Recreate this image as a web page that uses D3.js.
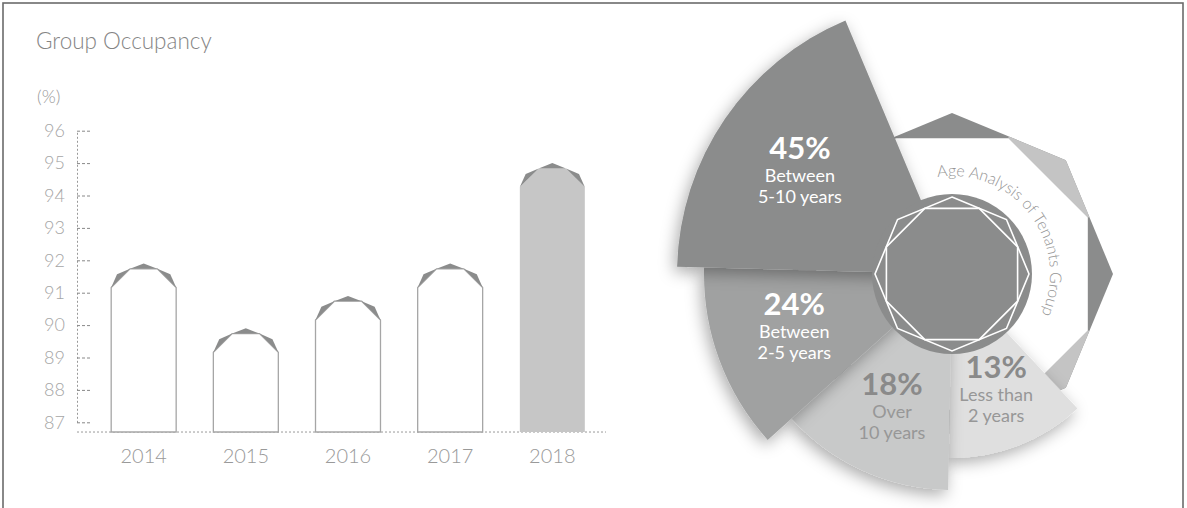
<!DOCTYPE html>
<html>
<head>
<meta charset="utf-8">
<script src="https://cdn.jsdelivr.net/npm/d3@7"></script>
<style>
  html, body { margin: 0; padding: 0; background: #fff; }
  svg { display: block; font-family: Lato, 'Open Sans', sans-serif; }
</style>
</head>
<body>
<svg id="chart" width="1187" height="508"></svg>
<script>
// ---- data ----
const years = ['2014', '2015', '2016', '2017', '2018'];
const occupancy = [91.9, 89.9, 90.9, 91.9, 95.0];
const yTicks = [87, 88, 89, 90, 91, 92, 93, 94, 95, 96];

const agePct = [13, 18, 24, 45];
const ageLine1 = ['Less than', 'Over', 'Between', 'Between'];
const ageLine2 = ['2 years', '10 years', '2-5 years', '5-10 years'];
const ageTitle = 'Age Analysis of Tenants Group';

const deg = Math.PI / 180;
const dark = '#8b8c8c';

const svg = d3.select('#chart');

// frame
svg.append('rect')
  .attr('x', 3).attr('y', 3)
  .attr('width', 1180).attr('height', 530)
  .attr('fill', 'none')
  .attr('stroke', '#6b6b6b')
  .attr('stroke-width', 1.6);

const defs = svg.append('defs');
defs.append('filter')
  .attr('id', 'shadow')
  .attr('x', '-30%').attr('y', '-30%')
  .attr('width', '160%').attr('height', '160%')
  .append('feDropShadow')
  .attr('dx', -3).attr('dy', 5)
  .attr('stdDeviation', 8)
  .attr('flood-color', '#000')
  .attr('flood-opacity', 0.33);

// ================= left: bar chart =================
svg.append('text')
  .attr('x', 36).attr('y', 49)
  .attr('font-size', 22.5)
  .attr('font-weight', 300)
  .attr('fill', '#858585')
  .text('Group Occupancy');

svg.append('text')
  .attr('x', 37).attr('y', 103)
  .attr('font-size', 18)
  .attr('font-weight', 300)
  .attr('fill', '#999')
  .text('(%)');

const x = d3.scaleBand().domain(years).range([74, 622]).padding(0.364);
const y = d3.scaleLinear().domain([87, 96]).range([422.3, 130.7]);
const base = y(86.7);

const yAxis = d3.axisLeft(y)
  .tickValues(yTicks)
  .tickSize(-13)
  .tickSizeOuter(0)
  .tickPadding(12)
  .tickFormat(d3.format('d'));

const gy = svg.append('g')
  .attr('transform', 'translate(77,0)')
  .call(yAxis)
  .attr('font-family', null)
  .attr('font-size', null);
gy.select('.domain').attr('stroke', '#999').attr('stroke-dasharray', '2,2');
gy.selectAll('.tick line').attr('stroke', '#888').attr('stroke-dasharray', '3,2');
gy.selectAll('.tick text')
  .attr('fill', '#a5a5a5')
  .attr('font-size', 18)
  .attr('font-weight', 300);

// baseline
svg.append('line')
  .attr('x1', 77).attr('x2', 606)
  .attr('y1', base).attr('y2', base)
  .attr('stroke', '#999')
  .attr('stroke-dasharray', '2,2');

const capH = 24;
const poly = d3.line().curve(d3.curveLinearClosed);

const bars = svg.append('g');
years.forEach((yr, i) => {
  const w = x.bandwidth() / 2;
  const cx = x(yr) + w;
  const ys = y(occupancy[i]) + capH;
  const last = i === years.length - 1;
  const inL = [cx - 0.42 * w, ys - 0.78 * capH];
  const inR = [cx + 0.42 * w, ys - 0.78 * capH];

  bars.append('path')
    .attr('d', poly([[cx - w, base], [cx - w, ys], inL, inR, [cx + w, ys], [cx + w, base]]))
    .attr('fill', last ? '#c6c6c6' : '#fff')
    .attr('stroke', last ? 'none' : '#a6a6a6')
    .attr('stroke-width', 1.3);

  const caps = [
    [[cx - w, ys], [cx - 0.82 * w, ys - 0.55 * capH], inL],
    [inL, [cx, ys - capH], inR],
    [inR, [cx + 0.82 * w, ys - 0.55 * capH], [cx + w, ys]],
  ];
  bars.selectAll(null)
    .data(caps)
    .enter()
    .append('path')
    .attr('d', poly)
    .attr('fill', dark);
});

svg.append('g')
  .selectAll('text')
  .data(years)
  .enter()
  .append('text')
  .attr('x', (d) => x(d) + x.bandwidth() / 2)
  .attr('y', 463)
  .attr('text-anchor', 'middle')
  .attr('font-size', 20)
  .attr('font-weight', 300)
  .attr('fill', '#999')
  .text((d) => d);

// ================= right: age analysis =================
const pg = svg.append('g').attr('transform', 'translate(952,274)');

const polar = (r, a) => [r * Math.sin(a), -r * Math.cos(a)];
const octagon = (r, rot) => d3.range(8).map((k) => polar(r, rot + k * 45 * deg));

// outer band octagon with light wedges
const outerOct = octagon(161, 0);
pg.append('path').attr('d', poly(outerOct)).attr('fill', dark);
const midPt = (a, b) => [(a[0] + b[0]) / 2, (a[1] + b[1]) / 2];
[1, 3].forEach((k) => {
  pg.append('path')
    .attr('d', poly([[0, 0], midPt(outerOct[k - 1], outerOct[k]), outerOct[k], midPt(outerOct[k], outerOct[k + 1])]))
    .attr('fill', '#c4c4c4');
});
pg.append('path').attr('d', poly(octagon(147, 22.5 * deg))).attr('fill', '#fff');

// curved title
const tp = d3.path();
tp.arc(0, 0, 98, -8.5 * deg - Math.PI / 2, 200 * deg - Math.PI / 2);
defs.append('path').attr('id', 'titleArc').attr('d', tp.toString());
pg.append('text')
  .attr('font-size', 16)
  .attr('font-weight', 300)
  .attr('fill', '#959595')
  .append('textPath')
  .attr('href', '#titleArc')
  .text(ageTitle);

// segments
const sweep = d3.scaleLinear().domain([13, 18, 24, 45]).range([44, 47, 43.5, 65.7]);
const outerR = d3.scaleLinear().domain([13, 18, 24, 45]).range([184, 216, 248, 275]);
const segFill = d3.scaleOrdinal().domain(agePct).range(['#dfdfdf', '#c8c9c9', '#a0a1a1', dark]);
const pctFill = d3.scaleOrdinal().domain(agePct).range(['#8a8a8a', '#8a8a8a', '#fff', '#fff']);
const subFill = d3.scaleOrdinal().domain(agePct).range(['#979797', '#979797', '#fff', '#fff']);

const pie = d3.pie()
  .sort(null)
  .value((d) => sweep(d))
  .startAngle(137 * deg)
  .endAngle(337.2 * deg);
const arc = d3.arc().innerRadius(0).outerRadius((d) => outerR(d.data));
const arcs = pie(agePct);

pg.append('g')
  .selectAll('path')
  .data(arcs)
  .enter()
  .append('path')
  .attr('d', arc)
  .attr('fill', (d) => segFill(d.data))
  .attr('filter', 'url(#shadow)');

// centre disc + octagon outlines
pg.append('circle').attr('r', 80).attr('fill', dark);
[[77, 0], [71, 22.5 * deg]].forEach(([r, rot]) => {
  pg.append('path')
    .attr('d', poly(octagon(r, rot)))
    .attr('fill', 'none')
    .attr('stroke', '#fff')
    .attr('stroke-width', 1.6);
});

// segment labels
const lab = pg.append('g')
  .selectAll('g')
  .data(arcs)
  .enter()
  .append('g')
  .attr('transform', (d) => {
    const a = (d.startAngle + d.endAngle) / 2 + (d.data === 24 ? 2 * deg : 0);
    const [lx, ly] = polar(0.67 * outerR(d.data), a);
    return `translate(${lx},${ly - 11})`;
  })
  .attr('text-anchor', 'middle');

lab.append('text')
  .attr('font-size', 31)
  .attr('font-weight', 700)
  .attr('fill', (d) => pctFill(d.data))
  .text((d) => `${d.data}%`);
lab.append('text')
  .attr('y', 23)
  .attr('font-size', 18)
  .attr('fill', (d) => subFill(d.data))
  .text((d, i) => ageLine1[i]);
lab.append('text')
  .attr('y', 44)
  .attr('font-size', 18)
  .attr('fill', (d) => subFill(d.data))
  .text((d, i) => ageLine2[i]);
</script>
</body>
</html>
